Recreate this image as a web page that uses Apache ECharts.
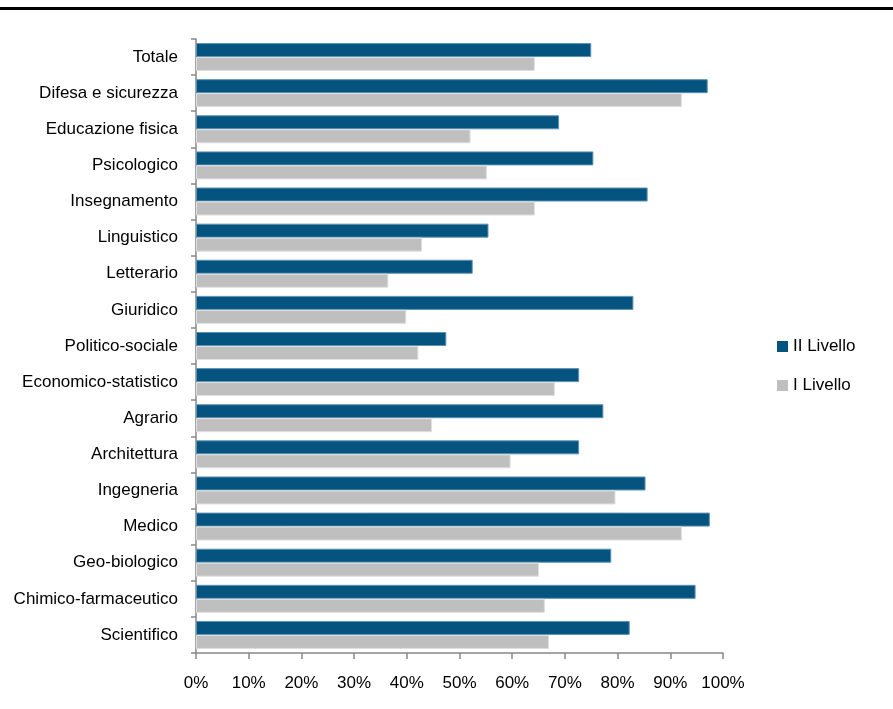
<!DOCTYPE html>
<html>
<head>
<meta charset="utf-8">
<script src="https://cdn.jsdelivr.net/npm/echarts@6/dist/echarts.min.js"></script>
<style>
  html, body { margin: 0; padding: 0; background: #fff; }
  #topline { position: absolute; left: 0; top: 7px; width: 893px; height: 3px; background: #000; }
  #chart { width: 893px; height: 709px; }
</style>
</head>
<body>
<div id="topline"></div>
<div id="chart"></div>
<script>
const categories = [
  'Totale', 'Difesa e sicurezza', 'Educazione fisica', 'Psicologico', 'Insegnamento',
  'Linguistico', 'Letterario', 'Giuridico', 'Politico-sociale', 'Economico-statistico',
  'Agrario', 'Architettura', 'Ingegneria', 'Medico', 'Geo-biologico',
  'Chimico-farmaceutico', 'Scientifico'
]
// valori in %
const secondoLivello = [75.0, 97.1, 68.9, 75.4, 85.7, 55.5, 52.5, 83.0, 47.5, 72.7, 77.3, 72.7, 85.3, 97.5, 78.8, 94.8, 82.3]
const primoLivello = [64.3, 92.2, 52.1, 55.2, 64.3, 42.9, 36.5, 39.9, 42.2, 68.1, 44.8, 59.7, 79.6, 92.2, 65.1, 66.2, 67.0]
const xTicks = [0, 10, 20, 30, 40, 50, 60, 70, 80, 90, 100]

const fontFamily = "'Liberation Sans Narrow', 'Arial Narrow', 'Liberation Sans', sans-serif"
const chart = echarts.init(document.getElementById('chart'))

chart.setOption({
  animation: false,
  textStyle: { fontFamily: fontFamily },
  grid: { left: 196, right: 170, top: 39, bottom: 56 },
  legend: {
    orient: 'vertical',
    left: 772,
    top: 333,
    itemWidth: 11,
    itemHeight: 11,
    itemGap: 22,
    icon: 'rect',
    itemStyle: { borderWidth: 0 },
    textStyle: { fontSize: 17, color: '#000', fontFamily: fontFamily },
    data: ['II Livello', 'I Livello']
  },
  xAxis: {
    type: 'value',
    min: xTicks[0],
    max: xTicks[xTicks.length - 1],
    interval: 10,
    axisLine: { show: true, lineStyle: { color: '#888', width: 1.5 } },
    axisTick: { show: true, length: 6, lineStyle: { color: '#888', width: 1.5 } },
    splitLine: { show: false },
    axisLabel: { formatter: '{value}%', fontSize: 17, color: '#000', margin: 22 }
  },
  yAxis: {
    type: 'category',
    inverse: true,
    data: categories,
    axisLine: { show: true, lineStyle: { color: '#888', width: 1.5 } },
    axisTick: { show: true, length: 5, lineStyle: { color: '#888', width: 1.5 } },
    axisLabel: { fontSize: 17, color: '#000', margin: 18 }
  },
  series: [
    {
      name: 'II Livello',
      type: 'bar',
      data: secondoLivello,
      barWidth: 14,
      barGap: '0%',
      itemStyle: { color: '#04547F', borderColor: '#5E92B4', borderWidth: 1 }
    },
    {
      name: 'I Livello',
      type: 'bar',
      data: primoLivello,
      barWidth: 14,
      itemStyle: { color: '#BFBFBF', borderColor: '#E0E0E0', borderWidth: 1 }
    }
  ]
})
</script>
</body>
</html>
